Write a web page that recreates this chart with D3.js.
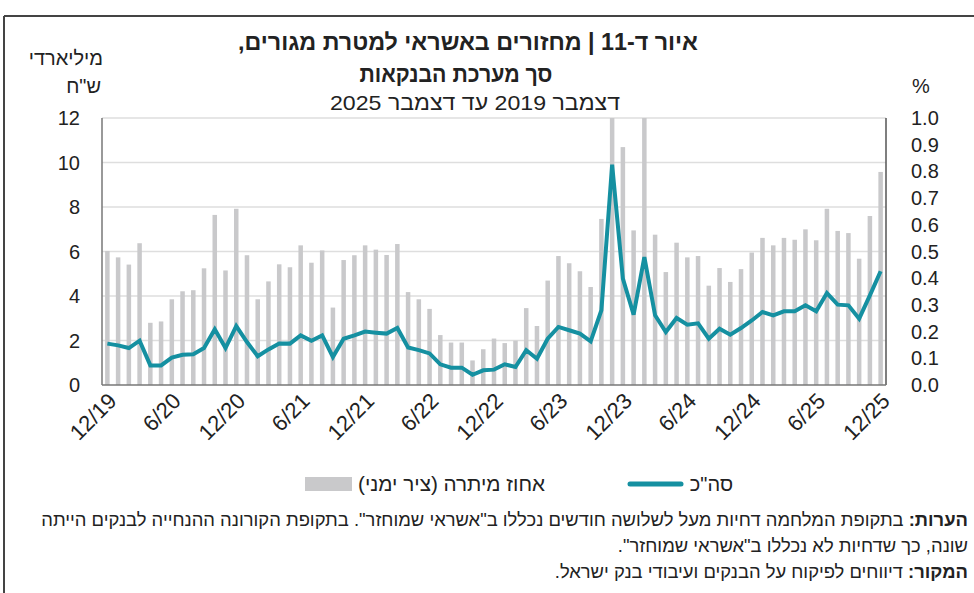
<!DOCTYPE html>
<html><head><meta charset="utf-8">
<script src="https://cdn.jsdelivr.net/npm/d3@7"></script>
<style>
html,body{margin:0;padding:0;background:#fff;}
svg{display:block;font-family:"Liberation Sans","DejaVu Sans",sans-serif;}
</style></head>
<body><svg id="c" width="974" height="593"></svg>
<script>
// ---- data ----
const months = (()=>{const a=[];let m=12,y=19;for(let i=0;i<73;i++){a.push(m+"/"+y);m++;if(m>12){m=1;y++;}}return a;})();
const tickLabels = ["12/19","6/20","12/20","6/21","12/21","6/22","12/22","6/23","12/23","6/24","12/24","6/25","12/25"];
// total (billions NIS, left axis)
const totalValues = [1.86,1.78,1.66,1.99,0.88,0.88,1.23,1.36,1.38,1.66,2.50,1.66,
 2.65,1.93,1.29,1.60,1.87,1.86,2.23,1.99,2.23,1.26,2.08,2.23,
 2.40,2.35,2.31,2.56,1.69,1.57,1.42,0.93,0.78,0.78,0.46,0.66,
 0.69,0.93,0.81,1.56,1.18,2.08,2.61,2.46,2.31,1.96,3.36,9.90,
 4.78,3.16,5.75,3.13,2.38,3.01,2.71,2.77,2.08,2.53,2.26,2.56,
 2.90,3.28,3.13,3.31,3.31,3.58,3.31,4.13,3.61,3.58,2.98,4.03,5.11];
// share of balance (%, right axis)
const shareValues = [0.502,0.478,0.451,0.531,0.233,0.238,0.321,0.351,0.355,0.437,0.637,0.429,
 0.660,0.486,0.321,0.388,0.452,0.441,0.523,0.458,0.504,0.290,0.468,0.486,
 0.523,0.507,0.487,0.528,0.348,0.321,0.285,0.187,0.159,0.159,0.092,0.134,
 0.174,0.157,0.166,0.288,0.221,0.391,0.483,0.456,0.426,0.367,0.622,1.0,
 0.891,0.579,1.0,0.563,0.423,0.533,0.478,0.483,0.372,0.438,0.386,0.434,
 0.496,0.551,0.523,0.551,0.544,0.583,0.542,0.660,0.577,0.569,0.473,0.633,0.798];
const leftTicks = [0,2,4,6,8,10,12];
const rightTicks = [0,0.1,0.2,0.3,0.4,0.5,0.6,0.7,0.8,0.9,1.0];

const svg = d3.select("#c");
const L=102,R=886,T=118,B=385;
const x = d3.scaleBand().domain(months).range([L,R]).paddingInner(0.58).paddingOuter(0.29);
const yL = d3.scaleLinear().domain([0,12]).range([B,T]);
const yR = d3.scaleLinear().domain([0,1]).range([B,T]);
const cx = m => x(m)+x.bandwidth()/2;
const ink = "#222";

// frame
svg.append("line").attr("x1",4).attr("x2",974).attr("y1",16).attr("y2",16).attr("stroke","#444").attr("stroke-width",2);
svg.append("line").attr("x1",4).attr("x2",4).attr("y1",16).attr("y2",593).attr("stroke","#444").attr("stroke-width",2);

// grid
svg.append("g").selectAll("line").data(leftTicks.slice(1)).join("line")
 .attr("x1",L).attr("x2",R).attr("y1",d=>yL(d)).attr("y2",d=>yL(d))
 .attr("stroke","#dedede").attr("stroke-width",1.3);

// bars
svg.append("g").selectAll("rect").data(shareValues).join("rect")
 .attr("x",(d,i)=>x(months[i])).attr("width",x.bandwidth())
 .attr("y",d=>yR(Math.min(d,1))).attr("height",d=>B-yR(Math.min(d,1)))
 .attr("fill","#c9c9cb");

// line
svg.append("path").datum(totalValues)
 .attr("d",d3.line().x((d,i)=>cx(months[i])).y(d=>yL(d)))
 .attr("fill","none").attr("stroke","#1590a1").attr("stroke-width",4).attr("stroke-linejoin","miter");

// axes lines
svg.append("line").attr("x1",L).attr("x2",L).attr("y1",T).attr("y2",B).attr("stroke","#777").attr("stroke-width",1.5);
svg.append("line").attr("x1",R).attr("x2",R).attr("y1",T).attr("y2",B).attr("stroke","#555").attr("stroke-width",1.5);
svg.append("line").attr("x1",L).attr("x2",R).attr("y1",B).attr("y2",B).attr("stroke","#777").attr("stroke-width",1.5);

// left tick labels
svg.append("g").selectAll("text").data(leftTicks).join("text")
 .attr("x",80).attr("y",d=>yL(d)).attr("dy","0.35em").attr("text-anchor","end")
 .attr("font-size",20).attr("fill",ink).text(d=>d);
// right tick labels
svg.append("g").selectAll("text").data(rightTicks).join("text")
 .attr("x",911).attr("y",d=>yR(d)).attr("dy","0.35em").attr("text-anchor","start")
 .attr("font-size",20).attr("fill",ink).text(d=>d3.format(".1f")(d));
// x labels
svg.append("g").selectAll("text").data(tickLabels).join("text")
 .attr("transform",(d,i)=>`translate(${cx(months[i*6])+5},${B+12}) rotate(-45)`)
 .attr("text-anchor","end").attr("dy","0.35em").attr("font-size",22).attr("fill",ink).text(d=>d);

// axis titles
svg.append("text").attr("x",103).attr("y",65).attr("text-anchor","end").attr("font-size",20).attr("fill",ink).text("מיליארדי");
svg.append("text").attr("x",101).attr("y",93).attr("text-anchor","end").attr("font-size",20).attr("fill",ink).text("ש\"ח");
svg.append("text").attr("x",912).attr("y",93).attr("text-anchor","start").attr("font-size",20).attr("fill",ink).text("%");

// titles
svg.append("text").attr("x",468).attr("y",50).attr("text-anchor","middle").attr("direction","rtl").attr("font-size",23).attr("font-weight","bold").attr("fill",ink)
 .attr("textLength",460).attr("lengthAdjust","spacingAndGlyphs")
 .text("איור ד-11 | מחזורים באשראי למטרת מגורים,");
svg.append("text").attr("x",456).attr("y",82).attr("text-anchor","middle").attr("direction","rtl").attr("font-size",23).attr("font-weight","bold").attr("fill",ink)
 .attr("textLength",193).attr("lengthAdjust","spacingAndGlyphs")
 .text("סך מערכת הבנקאות");
svg.append("text").attr("x",475).attr("y",110).attr("text-anchor","middle").attr("direction","rtl").attr("font-size",21).attr("fill",ink)
 .attr("textLength",290).attr("lengthAdjust","spacingAndGlyphs")
 .text("דצמבר 2019 עד דצמבר 2025");

// legend
svg.append("rect").attr("x",305).attr("y",477).attr("width",47).attr("height",14).attr("fill","#c9c9cb");
svg.append("text").attr("x",545).attr("y",491).attr("text-anchor","start").attr("direction","rtl").attr("font-size",20).attr("fill",ink)
 .attr("textLength",187).attr("lengthAdjust","spacingAndGlyphs").text("אחוז מיתרה (ציר ימני)");
svg.append("line").attr("x1",630).attr("x2",681).attr("y1",484).attr("y2",484).attr("stroke","#1590a1").attr("stroke-width",5).attr("stroke-linecap","round");
svg.append("text").attr("x",733).attr("y",491).attr("text-anchor","start").attr("direction","rtl").attr("font-size",20).attr("fill",ink).text("סה\"כ");

// notes
const n1 = svg.append("text").attr("x",968).attr("y",526).attr("direction","rtl").attr("text-anchor","start").attr("font-size",18.4).attr("fill",ink);
n1.append("tspan").attr("font-weight","bold").text("הערות:");
n1.append("tspan").text(" בתקופת המלחמה דחיות מעל לשלושה חודשים נכללו ב\"אשראי שמוחזר\". בתקופת הקורונה ההנחייה לבנקים הייתה");
svg.append("text").attr("x",968).attr("y",552).attr("direction","rtl").attr("text-anchor","start").attr("font-size",18.4).attr("fill",ink)
 .text("שונה, כך שדחיות לא נכללו ב\"אשראי שמוחזר\".");
const n3 = svg.append("text").attr("x",968).attr("y",578).attr("direction","rtl").attr("text-anchor","start").attr("font-size",18.4).attr("fill",ink);
n3.append("tspan").attr("font-weight","bold").text("המקור:");
n3.append("tspan").text(" דיווחים לפיקוח על הבנקים ועיבודי בנק ישראל.");
</script></body></html>
